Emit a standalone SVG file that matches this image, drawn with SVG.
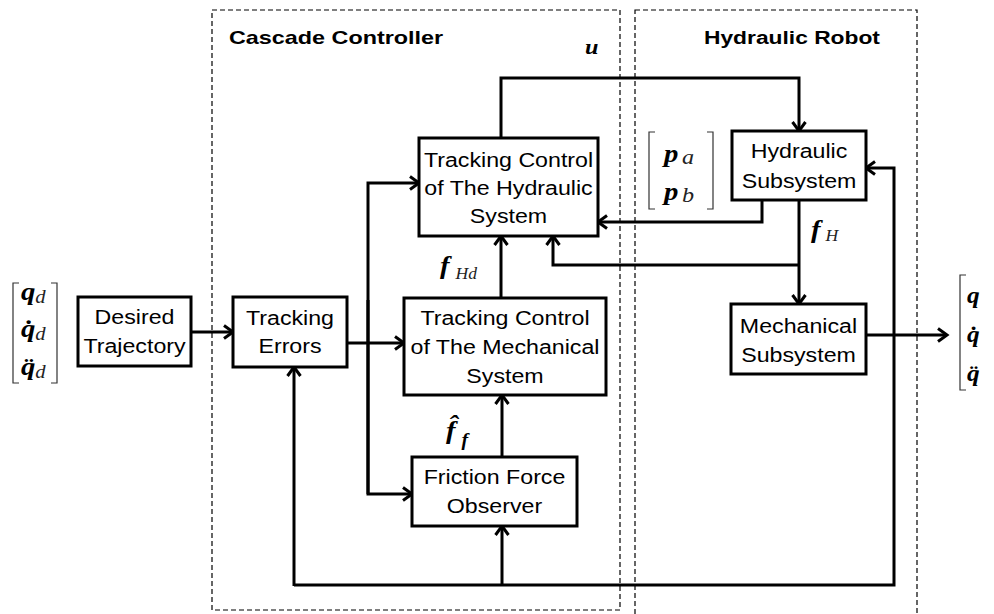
<svg xmlns="http://www.w3.org/2000/svg" width="994" height="614" viewBox="0 0 994 614">
  <defs>
    <style>
      .box { fill: #ffffff; stroke: #000; stroke-width: 3; }
      .wire { fill: none; stroke: #000; stroke-width: 3; }
      .frame { fill: none; stroke: #000; stroke-width: 1.2; stroke-dasharray: 5 3; }
      .brk { fill: none; stroke: #333; stroke-width: 1.2; }
      .lbl { font-family: "Liberation Sans", Arial, sans-serif; font-size: 20px; fill: #000; text-anchor: middle; }
      .ttl { font-family: "Liberation Sans", Arial, sans-serif; font-size: 19px; font-weight: bold; fill: #000; }
      .mb { font-family: "Liberation Serif", "Times New Roman", serif; font-style: italic; font-weight: bold; fill: #000; }
      .mi { font-family: "Liberation Serif", "Times New Roman", serif; font-style: italic; font-weight: normal; fill: #222; }
    </style>
    <marker id="arr" markerUnits="userSpaceOnUse" markerWidth="14" markerHeight="16" refX="11" refY="8" orient="auto">
      <path d="M2,1.5 L11,8 L2,14.5" fill="none" stroke="#000" stroke-width="3"/>
    </marker>
  </defs>

  <rect width="994" height="614" fill="#ffffff"/>

  <!-- dashed frames -->
  <g id="frames">
    <rect class="frame" x="212" y="10" width="408" height="600"/>
    <rect class="frame" x="635" y="10" width="282" height="612"/>
    <text class="ttl" transform="translate(229 44) scale(1.23 1)">Cascade Controller</text>
    <text class="ttl" transform="translate(704 44) scale(1.2 1)">Hydraulic Robot</text>
  </g>

  <!-- connectors -->
  <g id="connectors">
    <path class="wire" d="M191,332 H233" marker-end="url(#arr)"/>
    <path class="wire" d="M347,343 H404" marker-end="url(#arr)"/>
    <path class="wire" d="M368,494 V183 H419" marker-end="url(#arr)"/>
    <path class="wire" d="M368,300 V494 H412" marker-end="url(#arr)"/>
    <path class="wire" d="M501,298 V236" marker-end="url(#arr)"/>
    <path class="wire" d="M502,457 V395" marker-end="url(#arr)"/>
    <path class="wire" d="M501,138 V78 H799 V131" marker-end="url(#arr)"/>
    <path class="wire" d="M762,200 V222 H598" marker-end="url(#arr)"/>
    <path class="wire" d="M799,200 V304" marker-end="url(#arr)"/>
    <path class="wire" d="M799,265 H553 V236" marker-end="url(#arr)"/>
    <path class="wire" d="M866,335 H947" marker-end="url(#arr)"/>
    <path class="wire" d="M294,585 H894 V168 H866" marker-end="url(#arr)"/>
    <path class="wire" d="M294,586 V367" marker-end="url(#arr)"/>
    <path class="wire" d="M502,585 V526" marker-end="url(#arr)"/>
  </g>

  <!-- input vector: desired joint position, velocity, acceleration -->
  <g id="input-vector">
    <path class="brk" d="M19,283 H13 V383 H19 M51,283 H57 V383 H51"/>
    <text class="mb" font-size="25" transform="translate(21 300) scale(1.15 1)">q<tspan class="mi" font-size="18" dy="3">d</tspan></text>
    <text class="mb" font-size="25" transform="translate(21 337) scale(1.15 1)">q̇<tspan class="mi" font-size="18" dy="3">d</tspan></text>
    <text class="mb" font-size="25" transform="translate(21 375) scale(1.15 1)">q̈<tspan class="mi" font-size="18" dy="3">d</tspan></text>
  </g>

  <g id="desired-trajectory">
    <rect class="box" x="78" y="297" width="113" height="69"/>
    <text class="lbl" transform="translate(134.5 0) scale(1.16 1)"><tspan x="0" y="324">Desired</tspan><tspan x="0" y="353">Trajectory</tspan></text>
  </g>

  <g id="tracking-errors">
    <rect class="box" x="233" y="297" width="114" height="70"/>
    <text class="lbl" transform="translate(290 0) scale(1.16 1)"><tspan x="0" y="325">Tracking</tspan><tspan x="0" y="353">Errors</tspan></text>
  </g>

  <g id="hydraulic-control">
    <rect class="box" x="419" y="138" width="179" height="98"/>
    <text class="lbl" transform="translate(508.5 0) scale(1.16 1)"><tspan x="0" y="167">Tracking Control</tspan><tspan x="0" y="195">of The Hydraulic</tspan><tspan x="0" y="223">System</tspan></text>
  </g>

  <g id="mechanical-control">
    <rect class="box" x="404" y="298" width="202" height="97"/>
    <text class="lbl" transform="translate(505 0) scale(1.16 1)"><tspan x="0" y="325">Tracking Control</tspan><tspan x="0" y="354">of The Mechanical</tspan><tspan x="0" y="383">System</tspan></text>
  </g>

  <g id="friction-observer">
    <rect class="box" x="412" y="457" width="165" height="69"/>
    <text class="lbl" transform="translate(494.5 0) scale(1.16 1)"><tspan x="0" y="484">Friction Force</tspan><tspan x="0" y="513">Observer</tspan></text>
  </g>

  <g id="hydraulic-subsystem">
    <rect class="box" x="732" y="131" width="134" height="69"/>
    <text class="lbl" transform="translate(799 0) scale(1.16 1)"><tspan x="0" y="158">Hydraulic</tspan><tspan x="0" y="188">Subsystem</tspan></text>
  </g>

  <g id="mechanical-subsystem">
    <rect class="box" x="731" y="304" width="135" height="70"/>
    <text class="lbl" transform="translate(798.5 0) scale(1.16 1)"><tspan x="0" y="333">Mechanical</tspan><tspan x="0" y="362">Subsystem</tspan></text>
  </g>

  <!-- signal labels -->
  <g id="signal-labels">
    <text class="mb" font-size="22" transform="translate(585 54) scale(1.1 1)">u</text>

    <path class="brk" d="M655,132 H649 V209 H655 M707,132 H713 V209 H707"/>
    <text class="mb" font-size="25" transform="translate(664 162) scale(1.15 1)">p <tspan class="mi" font-size="21" dx="-3" dy="2">a</tspan></text>
    <text class="mb" font-size="25" transform="translate(664 200) scale(1.15 1)">p <tspan class="mi" font-size="21" dx="-3" dy="2">b</tspan></text>

    <text class="mb" font-size="26" transform="translate(811 238) scale(1.1 1)">f <tspan class="mi" font-size="16" dx="-2" dy="3">H</tspan></text>

    <text class="mb" font-size="26" transform="translate(440 274) scale(1.1 1)">f <tspan class="mi" font-size="16" dx="-1" dy="5">Hd</tspan></text>

    <text class="mb" font-size="26" transform="translate(446 439) scale(1.1 1)">f̂ <tspan font-size="18" dx="-1" dy="7">f</tspan></text>
  </g>

  <!-- output vector: joint position, velocity, acceleration -->
  <g id="output-vector">
    <path class="brk" d="M966,275 H960 V390 H966"/>
    <text class="mb" font-size="23" transform="translate(967 303) scale(1.1 1)">q</text>
    <text class="mb" font-size="23" transform="translate(967 342) scale(1.1 1)">q̇</text>
    <text class="mb" font-size="23" transform="translate(967 381) scale(1.1 1)">q̈</text>
  </g>
</svg>
